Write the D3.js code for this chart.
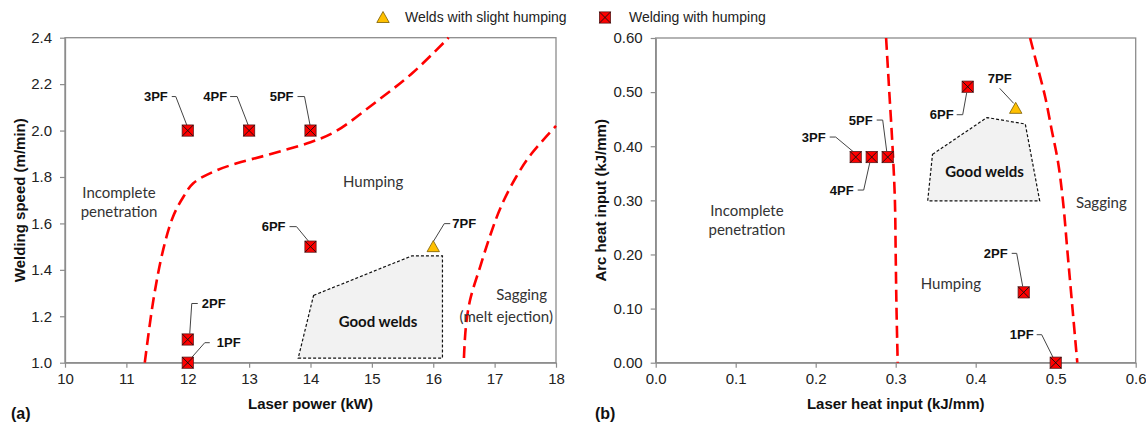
<!DOCTYPE html>
<html>
<head>
<meta charset="utf-8">
<script src="https://cdn.jsdelivr.net/npm/d3@7"></script>
<style>
  body { margin: 0; background: #fff; }
  svg text { font-family: "Liberation Sans", Arial, sans-serif; }
</style>
</head>
<body>
<div id="chart"></div>
<script>
// ---- data (a): laser power vs welding speed ----
const labelsA = ['1PF', '2PF', '3PF', '4PF', '5PF', '6PF', '7PF'];
const powerA = [12, 12, 12, 13, 14, 14, 16];
const speedA = [1.0, 1.1, 2.0, 2.0, 2.0, 1.5, 1.5];
const typeA = ['hump', 'hump', 'hump', 'hump', 'hump', 'hump', 'slight'];

// boundary curves (a)
const boundA1 = [[11.3, 1.0], [11.44, 1.27], [11.6, 1.487], [11.76, 1.629], [11.93, 1.715], [12.09, 1.773],
  [12.42, 1.823], [12.8, 1.859], [13.3, 1.895], [14.0, 1.95], [14.4, 1.995], [15.1, 2.13], [15.67, 2.25], [16.25, 2.4]];
const boundA2 = [[16.5, 1.02], [16.53, 1.15], [16.6, 1.27], [16.76, 1.41], [16.93, 1.55], [17.1, 1.67],
  [17.35, 1.8], [17.6, 1.9], [18.0, 2.02]];
const goodA = [[14.05, 1.29], [15.65, 1.46], [16.15, 1.46], [16.15, 1.02], [13.8, 1.02]];

// ---- data (b): laser heat input vs arc heat input ----
const labelsB = ['1PF', '2PF', '3PF', '4PF', '5PF', '6PF', '7PF'];
const laserB = [0.50, 0.46, 0.25, 0.27, 0.29, 0.39, 0.45];
const arcB = [0.00, 0.13, 0.38, 0.38, 0.38, 0.51, 0.47];
const typeB = ['hump', 'hump', 'hump', 'hump', 'hump', 'hump', 'slight'];

const boundB1 = [[0.288, 0.6], [0.292, 0.5], [0.296, 0.4], [0.299, 0.3], [0.300, 0.2], [0.301, 0.1], [0.3025, 0.0]];
const boundB2 = [[0.468, 0.6], [0.476, 0.554], [0.487, 0.49], [0.495, 0.43], [0.503, 0.37], [0.509, 0.30],
  [0.515, 0.2], [0.521, 0.1], [0.527, 0.0]];
const goodB = [[0.346, 0.385], [0.414, 0.453], [0.462, 0.441], [0.480, 0.299], [0.340, 0.299]];

// tick values
const ticksAx = [10, 11, 12, 13, 14, 15, 16, 17, 18];
const ticksAy = [1.0, 1.2, 1.4, 1.6, 1.8, 2.0, 2.2, 2.4];
const ticksBx = [0.0, 0.1, 0.2, 0.3, 0.4, 0.5, 0.6];
const ticksBy = [0.0, 0.1, 0.2, 0.3, 0.4, 0.5, 0.6];

// label leader layout (pixel offsets from marker): text anchor, then leader polyline
const leadersA = {
  '1PF': { tx: 29, ty: -20, anchor: 'start', line: [[22, -20], [17, -20], [2, -3]] },
  '2PF': { tx: 14, ty: -36, anchor: 'start', line: [[10, -36], [4, -36], [2, -6]] },
  '3PF': { tx: -20, ty: -34, anchor: 'end', line: [[-16, -34], [-12, -34], [0, -3]] },
  '4PF': { tx: -22, ty: -34, anchor: 'end', line: [[-19, -34], [-12, -34], [0, -3]] },
  '5PF': { tx: -17, ty: -34, anchor: 'end', line: [[-13, -34], [-6, -34], [0, -3]] },
  '6PF': { tx: -25, ty: -20, anchor: 'end', line: [[-21, -20], [-14, -20], [0, -3]] },
  '7PF': { tx: 19, ty: -23, anchor: 'start', line: [[17, -23], [11, -23], [0, -5]] }
};
const leadersB = {
  '1PF': { tx: -22, ty: -28, anchor: 'end', line: [[-19, -28], [-14, -28], [-2, -4]] },
  '2PF': { tx: -16, ty: -39, anchor: 'end', line: [[-12, -39], [-7, -39], [-1, -6]] },
  '3PF': { tx: -30, ty: -20, anchor: 'end', line: [[-26, -20], [-20, -20], [-2, -5]] },
  '4PF': { tx: -18, ty: 33, anchor: 'end', line: [[-14, 33], [-8, 33], [-2, 6]] },
  '5PF': { tx: -15, ty: -37, anchor: 'end', line: [[-11, -37], [-5, -37], [-1, -6]] },
  '6PF': { tx: -14, ty: 28, anchor: 'end', line: [[-11, 28], [-5, 28], [-1, 6]] },
  '7PF': { tx: -16, ty: -30, anchor: 'middle', line: [[-16, -20], [-2, -5]] }
};

// region annotations [text, x, y, bold]
const regionsA = [
  ['Incomplete', 10.88, 1.731, false], ['penetration', 10.88, 1.649, false],
  ['Humping', 15.02, 1.778, false], ['Sagging', 17.44, 1.292, false],
  ['(melt ejection)', 17.19, 1.198, false], ['Good welds', 15.1, 1.175, true]
];
const regionsB = [
  ['Incomplete', 0.114, 0.281, false], ['penetration', 0.114, 0.245, false],
  ['Humping', 0.369, 0.145, false], ['Sagging', 0.557, 0.295, false],
  ['Good welds', 0.411, 0.353, true]
];

const W = 1146, H = 422;
const svg = d3.select('#chart').append('svg').attr('width', W).attr('height', H);

const RED = '#ff0000';
const AXIS = '#8c8c8c';

function drawMarker(g, type, x, y) {
  if (type === 'hump') {
    const s = 5.6;
    g.append('rect').attr('x', x - s).attr('y', y - s).attr('width', 2 * s).attr('height', 2 * s)
      .attr('fill', RED).attr('stroke', '#5a1a1a').attr('stroke-width', 0.8);
    g.append('path').attr('d', `M${x - s},${y - s}L${x + s},${y + s}M${x + s},${y - s}L${x - s},${y + s}`)
      .attr('stroke', '#111').attr('stroke-width', 0.9);
  } else {
    g.append('path').attr('d', `M${x},${y - 6}L${x + 6.2},${y + 5}L${x - 6.2},${y + 5}Z`)
      .attr('fill', '#ffc000').attr('stroke', '#7a5c00').attr('stroke-width', 0.8);
  }
}

function drawPanel(cfg) {
  const { x0, x1, y0, y1 } = cfg.box;
  const x = d3.scaleLinear().domain(cfg.xDomain).range([x0, x1]);
  const y = d3.scaleLinear().domain(cfg.yDomain).range([y1, y0]);
  const g = svg.append('g');

  // frame
  g.append('rect').attr('x', x0).attr('y', y0).attr('width', x1 - x0).attr('height', y1 - y0)
    .attr('fill', 'none').attr('stroke', AXIS).attr('stroke-width', 1.3);

  // axes
  const ax = g.append('g').attr('transform', `translate(0,${y1})`)
    .call(d3.axisBottom(x).tickValues(cfg.xTicks).tickFormat(d3.format(cfg.xFmt)).tickSize(5).tickSizeOuter(0).tickPadding(6));
  const ay = g.append('g').attr('transform', `translate(${x0},0)`)
    .call(d3.axisLeft(y).tickValues(cfg.yTicks).tickFormat(d3.format(cfg.yFmt)).tickSize(5).tickSizeOuter(0).tickPadding(8));
  [ax, ay].forEach(a => {
    a.select('.domain').attr('stroke', AXIS).attr('stroke-width', 1.3);
    a.selectAll('.tick line').attr('stroke', AXIS).attr('stroke-width', 1.2);
    a.selectAll('.tick text').attr('fill', '#222').style('font-size', '15px');
  });

  // axis titles
  g.append('text').attr('x', (x0 + x1) / 2).attr('y', 409).attr('text-anchor', 'middle')
    .style('font-size', '15px').style('font-weight', 'bold').attr('fill', '#111').text(cfg.xTitle);
  g.append('text').attr('transform', `translate(${cfg.yTitleX},${(y0 + y1) / 2}) rotate(-90)`)
    .attr('text-anchor', 'middle').style('font-size', '15px').style('font-weight', 'bold')
    .attr('fill', '#111').text(cfg.yTitle);
  g.append('text').attr('x', cfg.tagX).attr('y', 419).style('font-size', '16px')
    .style('font-weight', 'bold').attr('fill', '#111').text(cfg.tag);

  // good welds region
  g.append('path').attr('d', 'M' + cfg.good.map(p => [x(p[0]), y(p[1])].join(',')).join('L') + 'Z')
    .attr('fill', '#f2f2f2').attr('stroke', '#111').attr('stroke-width', 1.2)
    .attr('stroke-dasharray', '3,2');

  // boundary curves
  const line = d3.line().x(d => x(d[0])).y(d => y(d[1])).curve(d3.curveCatmullRom.alpha(0.5));
  cfg.bounds.forEach(b => {
    g.append('path').attr('d', line(b)).attr('fill', 'none').attr('stroke', RED)
      .attr('stroke-width', 2.6).attr('stroke-dasharray', '12,6');
  });

  // region labels
  cfg.regions.forEach(r => {
    g.append('text').attr('x', x(r[1])).attr('y', y(r[2])).attr('text-anchor', 'middle')
      .attr('dy', '0.35em').style('font-family', 'Lato, "Open Sans", sans-serif')
      .style('font-size', '15px').style('font-weight', r[3] ? 'bold' : 'normal')
      .attr('fill', r[3] ? '#111' : '#333').text(r[0]);
  });

  // points with leaders
  cfg.labels.forEach((lab, i) => {
    const px = x(cfg.xs[i]), py = y(cfg.ys[i]);
    const L = cfg.leaders[lab];
    g.append('path').attr('d', 'M' + L.line.map(p => [px + p[0], py + p[1]].join(',')).join('L'))
      .attr('fill', 'none').attr('stroke', '#444').attr('stroke-width', 1);
    g.append('text').attr('x', px + L.tx).attr('y', py + L.ty).attr('dy', '0.36em')
      .attr('text-anchor', L.anchor).style('font-size', '13px').style('font-weight', 'bold')
      .attr('fill', '#111').text(lab);
  });
  cfg.labels.forEach((lab, i) => drawMarker(g, cfg.types[i], x(cfg.xs[i]), y(cfg.ys[i])));
}

drawPanel({
  box: { x0: 65, x1: 556, y0: 37.7, y1: 362.7 },
  xDomain: [10, 18], yDomain: [1.0, 2.4],
  xTicks: ticksAx, yTicks: ticksAy, xFmt: 'd', yFmt: '.1f',
  xTitle: 'Laser power (kW)', yTitle: 'Welding speed (m/min)', yTitleX: 25,
  tag: '(a)', tagX: 11,
  good: goodA, bounds: [boundA1, boundA2], regions: regionsA,
  labels: labelsA, xs: powerA, ys: speedA, types: typeA, leaders: leadersA
});

drawPanel({
  box: { x0: 655.7, x1: 1135.7, y0: 38, y1: 362.7 },
  xDomain: [0, 0.6], yDomain: [0, 0.6],
  xTicks: ticksBx, yTicks: ticksBy, xFmt: '.1f', yFmt: '.2f',
  xTitle: 'Laser heat input (kJ/mm)', yTitle: 'Arc heat input (kJ/mm)', yTitleX: 606,
  tag: '(b)', tagX: 595,
  good: goodB, bounds: [boundB1, boundB2], regions: regionsB,
  labels: labelsB, xs: laserB, ys: arcB, types: typeB, leaders: leadersB
});

// legend
const legend = svg.append('g');
drawMarker(legend, 'slight', 383, 17.5);
legend.append('text').attr('x', 405).attr('y', 22).style('font-size', '14px').attr('fill', '#222')
  .text('Welds with slight humping');
drawMarker(legend, 'hump', 605, 17.5);
legend.append('text').attr('x', 629).attr('y', 22).style('font-size', '14px').attr('fill', '#222')
  .text('Welding with humping');
</script>
</body>
</html>
